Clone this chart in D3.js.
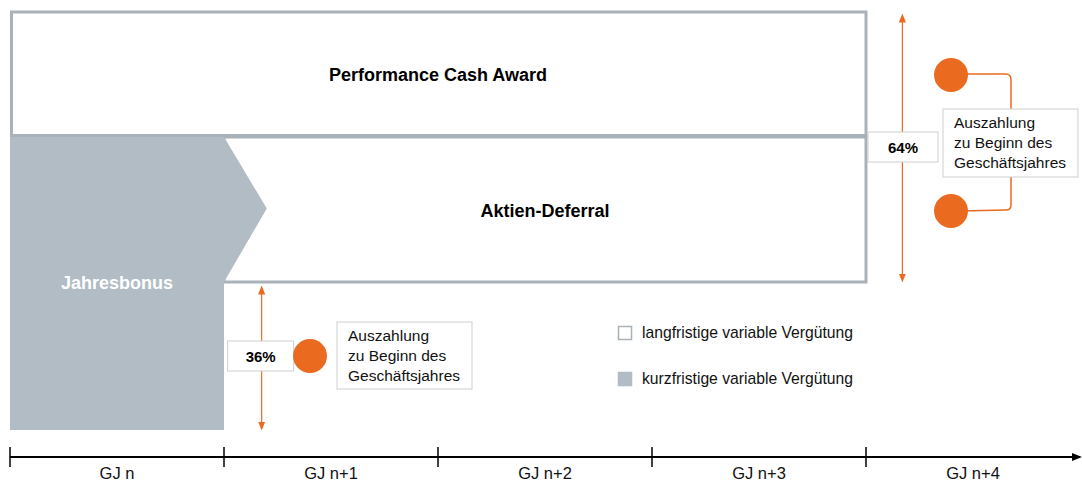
<!DOCTYPE html>
<html>
<head>
<meta charset="utf-8">
<script src="https://cdn.jsdelivr.net/npm/d3@7"></script>
<style>
  body { margin: 0; background: #fff; }
  text { font-family: "Liberation Sans", Arial, sans-serif; }
</style>
</head>
<body>
<div id="chart"></div>
<script>
// timeline periods (Geschäftsjahre)
const periods = ["GJ n", "GJ n+1", "GJ n+2", "GJ n+3", "GJ n+4"];
// components: label, start period, end period
const components = ["Performance Cash Award", "Aktien-Deferral", "Jahresbonus"];
const compStart = [0, 1, 0];
const compEnd = [4, 4, 1];
// payout shares
const shareLabels = ["36%", "64%"];
const payoutText = ["Auszahlung", "zu Beginn des", "Geschäftsjahres"];
const legendLabels = ["langfristige variable Vergütung", "kurzfristige variable Vergütung"];

const width = 1082, height = 482;
const orange = "#ea6a20", gray = "#b1bcc5", border = "#a9b1b9", boxBorder = "#cfcfcf";

const x = d3.scaleLinear().domain([0, periods.length]).range([10, 1080]);
const y = d3.scaleLinear().domain([0, 1]).range([12, 430]); // vertical layout fraction

const svg = d3.select("#chart").append("svg")
  .attr("width", width).attr("height", height);

const defs = svg.append("defs");
defs.append("marker").attr("id", "ah").attr("viewBox", "0 0 10 10")
  .attr("refX", 5).attr("refY", 5).attr("markerWidth", 9).attr("markerHeight", 9)
  .attr("orient", "auto-start-reverse").attr("markerUnits", "userSpaceOnUse")
  .append("path").attr("d", "M0,1 L10,5 L0,9 Z").attr("fill", orange);
defs.append("marker").attr("id", "axisArrow").attr("viewBox", "0 0 10 10")
  .attr("refX", 8).attr("refY", 5).attr("markerWidth", 10).attr("markerHeight", 10)
  .attr("orient", "auto").attr("markerUnits", "userSpaceOnUse")
  .append("path").attr("d", "M0,1 L10,5 L0,9 Z").attr("fill", "#000");

// rows
const rowTop = y(0), rowMid = 137, rowBot = 282, baseBot = y(1);

// Performance Cash Award box
svg.append("rect")
  .attr("x", x(compStart[0]) + 1.5).attr("y", rowTop)
  .attr("width", x(compEnd[0]) - x(compStart[0]) - 1.5).attr("height", rowMid - rowTop - 1.5)
  .attr("fill", "#fff").attr("stroke", border).attr("stroke-width", 3);

// Aktien-Deferral box
svg.append("rect")
  .attr("x", x(compStart[1])).attr("y", rowMid)
  .attr("width", x(compEnd[1]) - x(compStart[1])).attr("height", rowBot - rowMid)
  .attr("fill", "#fff").attr("stroke", border).attr("stroke-width", 3);

// Jahresbonus chevron shape
const jx0 = x(compStart[2]), jx1 = x(compEnd[2]), tip = x(compEnd[2] + 0.2);
svg.append("path")
  .attr("d", `M${jx0},${rowMid} L${jx1},${rowMid} L${tip},${(rowMid + rowBot) / 2 - 1} L${jx1},${rowBot} L${jx1},${baseBot} L${jx0},${baseBot} Z`)
  .attr("fill", gray);

svg.append("text").attr("x", (x(compStart[0]) + x(compEnd[0])) / 2).attr("y", 81)
  .attr("text-anchor", "middle").attr("font-weight", "bold").attr("font-size", 18)
  .text(components[0]);
svg.append("text").attr("x", (x(compStart[1]) + x(compEnd[1])) / 2).attr("y", 217)
  .attr("text-anchor", "middle").attr("font-weight", "bold").attr("font-size", 18)
  .text(components[1]);
svg.append("text").attr("x", (jx0 + jx1) / 2).attr("y", 289)
  .attr("text-anchor", "middle").attr("font-weight", "bold").attr("font-size", 18)
  .attr("fill", "#fff").text(components[2]);

// payout groups
function payoutBox(bx, by, bw, bh) {
  svg.append("rect").attr("x", bx).attr("y", by).attr("width", bw).attr("height", bh)
    .attr("fill", "#fff").attr("stroke", boxBorder);
  svg.append("text").attr("x", bx + 11).attr("y", by + 19).attr("font-size", 15.5)
    .attr("fill", "#111")
    .selectAll("tspan").data(payoutText).join("tspan")
    .attr("x", bx + 11).attr("dy", (d, i) => i === 0 ? 0 : 20).text(d => d);
}
function shareBox(cx, cy, w, label) {
  svg.append("rect").attr("x", cx - w / 2).attr("y", cy - 15).attr("width", w).attr("height", 30)
    .attr("fill", "#fff").attr("stroke", boxBorder);
  svg.append("text").attr("x", cx).attr("y", cy + 5.5).attr("text-anchor", "middle")
    .attr("font-weight", "bold").attr("font-size", 15).text(label);
}

// short-term: 36%
const ax1 = x(1.176);
svg.append("line").attr("x1", ax1).attr("x2", ax1).attr("y1", rowBot + 8).attr("y2", baseBot - 4)
  .attr("stroke", orange).attr("stroke-width", 1.2)
  .attr("marker-start", "url(#ah)").attr("marker-end", "url(#ah)");
shareBox(ax1 - 1, 356, 66, shareLabels[0]);
svg.append("circle").attr("cx", 310).attr("cy", 356).attr("r", 17).attr("fill", orange);
payoutBox(337, 322, 135, 67);

// long-term: 64%
const ax2 = x(4.17);
svg.append("line").attr("x1", ax2).attr("x2", ax2).attr("y1", rowTop + 6).attr("y2", rowBot - 4)
  .attr("stroke", orange).attr("stroke-width", 1.2)
  .attr("marker-start", "url(#ah)").attr("marker-end", "url(#ah)");
svg.append("path")
  .attr("d", "M960,74 L1006,74 Q1011,74 1011,80 L1011,205 Q1011,210 1006,210 L960,211")
  .attr("fill", "none").attr("stroke", orange).attr("stroke-width", 1.5);
svg.append("circle").attr("cx", 951).attr("cy", 75).attr("r", 17).attr("fill", orange);
svg.append("circle").attr("cx", 951).attr("cy", 211).attr("r", 17).attr("fill", orange);
shareBox(903, 147, 70, shareLabels[1]);
payoutBox(943, 109, 135, 68);

// legend
const legend = svg.append("g").selectAll("g").data(legendLabels).join("g")
  .attr("transform", (d, i) => `translate(618, ${326 + i * 46})`);
legend.append("rect").attr("x", 0.5).attr("y", 0.5).attr("width", 13).attr("height", 13)
  .attr("fill", (d, i) => i === 0 ? "#fff" : gray)
  .attr("stroke", (d, i) => i === 0 ? border : gray).attr("stroke-width", 1.5);
legend.append("text").attr("x", 24).attr("y", 12).attr("font-size", 15.7).attr("fill", "#111")
  .text(d => d);

// timeline axis
const axisY = 457;
svg.append("line").attr("x1", x(0)).attr("x2", x(periods.length))
  .attr("y1", axisY).attr("y2", axisY).attr("stroke", "#000").attr("stroke-width", 1.8)
  .attr("marker-end", "url(#axisArrow)");
svg.selectAll(".tick").data(d3.range(periods.length)).join("line").attr("class", "tick")
  .attr("x1", d => x(d)).attr("x2", d => x(d)).attr("y1", axisY - 10).attr("y2", axisY + 10)
  .attr("stroke", "#000").attr("stroke-width", 1.5);
svg.selectAll(".plabel").data(periods).join("text").attr("class", "plabel")
  .attr("x", (d, i) => x(i + 0.5)).attr("y", 479).attr("text-anchor", "middle")
  .attr("font-size", 16.5).attr("fill", "#111").text(d => d);
</script>
</body>
</html>
